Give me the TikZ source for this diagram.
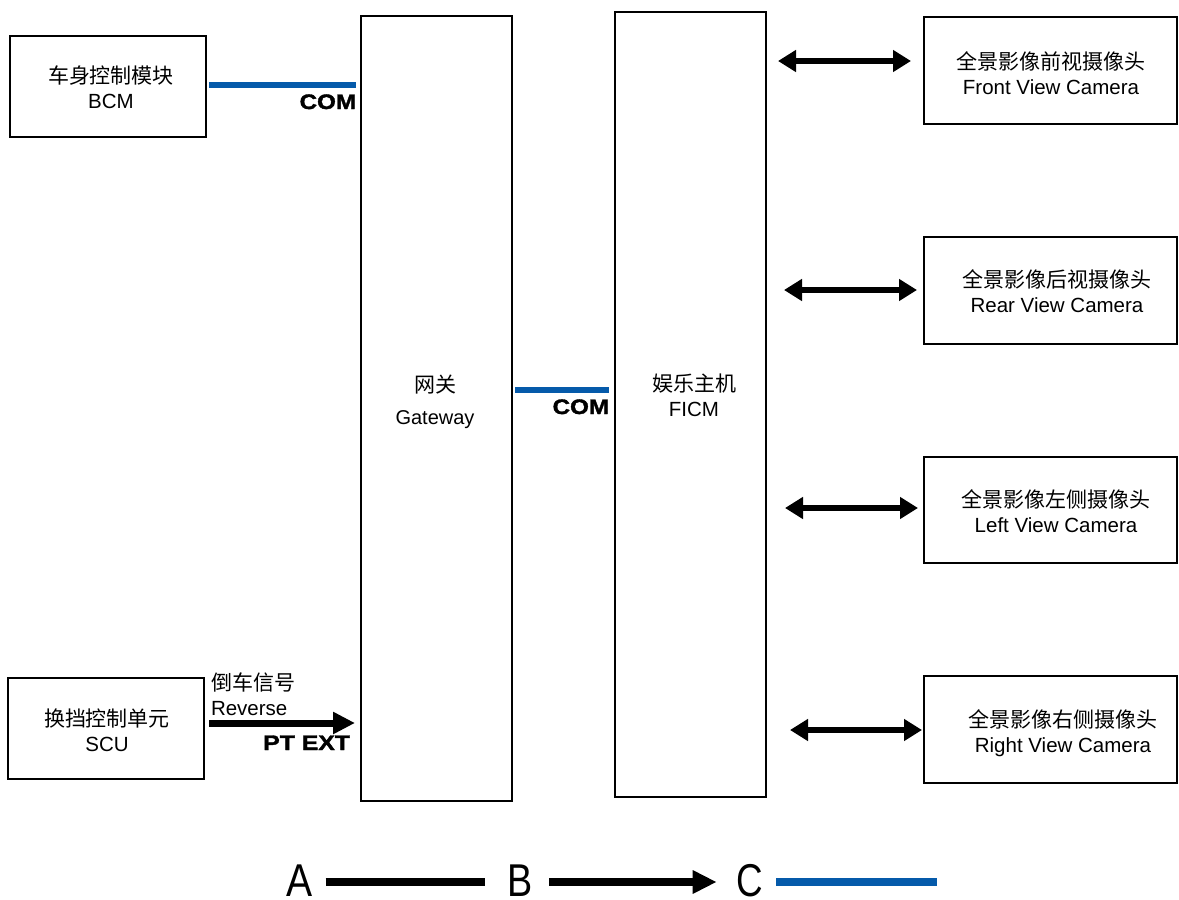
\documentclass[tikz,border=0pt]{standalone}
\usepackage{fontspec}
\setmainfont{Liberation Sans}
\newfontfamily\cjk{Noto Sans CJK SC}
\newfontfamily\heavy[FakeBold=1.6]{Liberation Sans Bold}
\usetikzlibrary{arrows.meta,calc}
\definecolor{comblue}{RGB}{5,90,170}
\tikzset{
  box/.style={draw, line width=1.6pt, inner sep=0pt, outer sep=0pt, align=center},
  txt/.style={inner sep=0pt, outer sep=0pt, align=center, font=\fontsize{20.5}{25}\selectfont},
  comlbl/.style={inner sep=0pt, outer sep=0pt, font=\heavy\fontsize{21}{25}\selectfont},
  blueline/.style={draw=comblue, line width=6.5pt},
  sigarrow/.style={line width=7pt, -{Triangle[length=22pt,width=21pt]}},
  dblarrow/.style={line width=5.5pt, {Triangle[length=18pt,width=21pt]}-{Triangle[length=18pt,width=21pt]}},
  legtxt/.style={inner sep=0pt, outer sep=0pt, font=\fontsize{46}{50}\selectfont},
  legline/.style={line width=7.5pt},
}
\newcommand{\zh}[1]{{\cjk\fontsize{21}{25}\selectfont #1}}
\begin{document}
\begin{tikzpicture}[x=1pt,y=-1pt]
\useasboundingbox (0,0) rectangle (1179,900);
% boxes
\node[box, minimum width=196pt, minimum height=101pt] (bcm) at (108,86.5) {};
\node[box, minimum width=196pt, minimum height=101pt] (scu) at (106,728.5) {};
\node[box, minimum width=151pt, minimum height=785pt] (gw) at (436.5,408.5) {};
\node[box, minimum width=151pt, minimum height=785pt] (ficm) at (690.5,404.5) {};
\node[box, minimum width=253pt, minimum height=107pt] (front) at (1050.5,70.5) {};
\node[box, minimum width=253pt, minimum height=107pt] (rear) at (1050.5,290.5) {};
\node[box, minimum width=253pt, minimum height=106pt] (left) at (1050.5,510) {};
\node[box, minimum width=253pt, minimum height=107pt] (right) at (1050.5,729.5) {};
% texts
\node[txt] (bcmt) at (111,87.5) {\zh{车身控制模块}\\BCM};
\node[txt] (scut) at (107,730.5) {\zh{换挡控制单元}\\SCU};
\node[txt, font=\fontsize{20}{25}\selectfont] (gwt) at (435,401.5) {\zh{网关}\\[7pt]Gateway};
\node[txt] (ficmt) at (694,395) {\zh{娱乐主机}\\FICM};
\node[txt] (frontt) at (1051,73.5) {\zh{全景影像前视摄像头}\\Front View Camera};
\node[txt] (reart) at (1057,291.5) {\zh{全景影像后视摄像头}\\Rear View Camera};
\node[txt] (leftt) at (1056,511) {\zh{全景影像左侧摄像头}\\Left View Camera};
\node[txt] (rightt) at (1063,733) {\zh{全景影像右侧摄像头}\\Right View Camera};
% BCM - gateway
\draw[blueline] ($(bcm.east)+(3,-1.5)$) -- ($(gw.west|-bcm.east)+(-5,-1.5)$);
\node[comlbl, anchor=base east] (com1) at (356,109) {\scalebox{1.15}[1]{COM}};
% gateway - FICM
\coordinate (mid) at (0,390);
\draw[blueline] ($(gw.east|-mid)+(3,0)$) -- ($(ficm.west|-mid)+(-6,0)$);
\node[comlbl, anchor=base east] (com2) at (609,414) {\scalebox{1.15}[1]{COM}};
% SCU - gateway
\draw[sigarrow] ($(scu.east)+(5,-5.5)$) -- ($(gw.west|-scu.east)+(-6,-5.5)$);
\node[txt, anchor=west, align=left] (rev) at (211,694) {\zh{倒车信号}\\Reverse};
\node[comlbl, anchor=base east] (ptext) at (350,750) {\scalebox{1.18}[1]{PT EXT}};
% FICM - cameras
\coordinate (yf) at (0,61);
\coordinate (yr) at (0,290);
\coordinate (yl) at (0,508);
\coordinate (yrt) at (0,730);
\draw[dblarrow] ($(ficm.east|-yf)+(12,0)$) -- ($(front.west|-yf)+(-13,0)$);
\draw[dblarrow] ($(ficm.east|-yr)+(18,0)$) -- ($(rear.west|-yr)+(-7,0)$);
\draw[dblarrow] ($(ficm.east|-yl)+(19,0)$) -- ($(left.west|-yl)+(-6,0)$);
\draw[dblarrow] ($(ficm.east|-yrt)+(24,0)$) -- ($(right.west|-yrt)+(-2,0)$);
% legend
\node[legtxt] (la) at (299.5,880.5) {\scalebox{0.85}[1]{A}};
\node[legtxt] (lb) at (520.5,880.5) {\scalebox{0.82}[1]{B}};
\node[legtxt] (lc) at (750,880.5) {\scalebox{0.8}[1]{C}};
\coordinate (lend) at (937,882);
\draw[legline] ($(la.east)+(13,1.5)$) -- ($(lb.west)+(-23,1.5)$);
\draw[legline, -{Triangle[length=24pt,width=22pt]}] ($(lb.east)+(16,1.5)$) -- ($(lc.west)+(-20,1.5)$);
\draw[legline, draw=comblue] ($(lc.east)+(13,1.5)$) -- (lend);
\end{tikzpicture}
\end{document}
